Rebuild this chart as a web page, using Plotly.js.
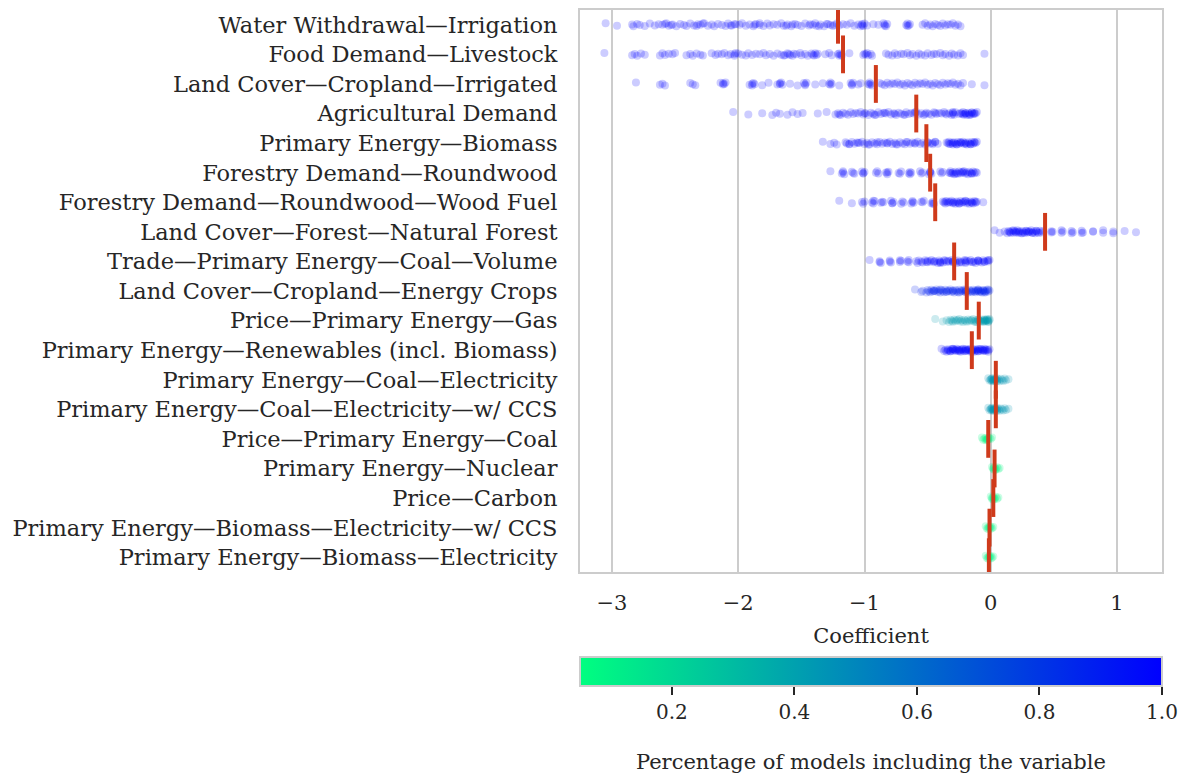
<!DOCTYPE html>
<html><head><meta charset="utf-8">
<script src="https://cdn.plot.ly/plotly-3.0.1.min.js"></script>
<style>html,body{margin:0;padding:0;background:#fff}</style>
</head><body>
<div id="chart" style="width:1178px;height:775px"></div>
<script>
const categories = [
  "Water Withdrawal—Irrigation",
  "Food Demand—Livestock",
  "Land Cover—Cropland—Irrigated",
  "Agricultural Demand",
  "Primary Energy—Biomass",
  "Forestry Demand—Roundwood",
  "Forestry Demand—Roundwood—Wood Fuel",
  "Land Cover—Forest—Natural Forest",
  "Trade—Primary Energy—Coal—Volume",
  "Land Cover—Cropland—Energy Crops",
  "Price—Primary Energy—Gas",
  "Primary Energy—Renewables (incl. Biomass)",
  "Primary Energy—Coal—Electricity",
  "Primary Energy—Coal—Electricity—w/ CCS",
  "Price—Primary Energy—Coal",
  "Primary Energy—Nuclear",
  "Price—Carbon",
  "Primary Energy—Biomass—Electricity—w/ CCS",
  "Primary Energy—Biomass—Electricity"
];

// share of models including each variable (colour)
const share = [1.0,1.0,1.0,1.0,1.0,1.0,1.0,1.0,1.0,0.88,0.42,1.0,0.45,0.45,0.08,0.08,0.08,0.08,0.08];

// mean coefficient per variable (red bars)
const means = [-1.21,-1.17,-0.91,-0.59,-0.51,-0.48,-0.44,0.43,-0.29,-0.19,-0.095,-0.15,0.04,0.04,-0.02,0.03,0.02,-0.01,-0.015];

// coefficient samples per variable
const waterIrrigation = [-3.05,-2.96,-2.84,-2.83,-2.8,-2.78,-2.74,-2.7,-2.66,-2.63,-2.6,-2.57,-2.55,-2.52,-2.49,-2.46,-2.43,-2.41,-2.38,-2.35,-2.32,-2.3,-2.27,-2.24,-2.21,-2.19,-2.16,-2.13,-2.1,-2.08,-2.05,-2.02,-1.99,-1.97,-1.94,-1.91,-1.88,-1.86,-1.83,-1.8,-1.77,-1.75,-1.72,-1.69,-1.66,-1.64,-1.61,-1.58,-1.55,-1.53,-1.5,-1.47,-1.44,-1.43,-1.41,-1.39,-1.38,-1.35,-1.32,-1.29,-1.27,-1.25,-1.22,-1.2,-1.17,-1.14,-1.11,-1.08,-1.05,-1.03,-1.02,-1.02,-1.01,-1.0,-0.98,-0.93,-0.89,-0.85,-0.84,-0.84,-0.83,-0.82,-0.67,-0.66,-0.66,-0.65,-0.64,-0.54,-0.52,-0.5,-0.48,-0.46,-0.44,-0.42,-0.4,-0.38,-0.36,-0.34,-0.32,-0.3,-0.28,-0.26,-0.24,-2.58,-2.53,-2.33,-2.28,-2.06,-2.03,-1.87,-1.83,-1.62,-1.57,-1.36,-1.3,-1.24];
const foodLivestock = [-3.06,-2.84,-2.82,-2.8,-2.77,-2.74,-2.62,-2.6,-2.58,-2.55,-2.52,-2.5,-2.41,-2.38,-2.36,-2.33,-2.3,-2.28,-2.21,-2.18,-2.16,-2.13,-2.11,-2.08,-2.06,-2.03,-2.0,-1.97,-1.94,-1.92,-1.89,-1.86,-1.83,-1.8,-1.78,-1.75,-1.72,-1.69,-1.66,-1.64,-1.61,-1.59,-1.56,-1.54,-1.51,-1.5,-1.47,-1.45,-1.42,-1.41,-1.4,-1.39,-1.38,-1.37,-1.31,-1.28,-1.26,-1.21,-1.2,-1.2,-1.19,-1.18,-1.12,-1.01,-1.0,-0.99,-0.98,-0.97,-0.95,-0.94,-0.83,-0.81,-0.78,-0.76,-0.74,-0.71,-0.69,-0.66,-0.64,-0.62,-0.59,-0.57,-0.55,-0.52,-0.5,-0.47,-0.45,-0.43,-0.4,-0.38,-0.36,-0.33,-0.31,-0.29,-0.26,-0.24,-0.22,-0.05,-2.03,-2.02,-1.63,-1.6,-1.57];
const croplandIrrigated = [-2.81,-2.62,-2.6,-2.58,-2.38,-2.36,-2.34,-2.14,-2.12,-2.12,-2.11,-2.1,-1.91,-1.89,-1.89,-1.88,-1.87,-1.81,-1.76,-1.69,-1.67,-1.67,-1.66,-1.65,-1.59,-1.53,-1.48,-1.47,-1.47,-1.46,-1.39,-1.33,-1.28,-1.27,-1.27,-1.26,-1.2,-1.11,-1.1,-1.1,-1.09,-1.05,-1.03,-0.97,-0.96,-0.96,-0.95,-0.94,-0.88,-0.86,-0.84,-0.82,-0.8,-0.78,-0.76,-0.74,-0.72,-0.7,-0.68,-0.66,-0.64,-0.62,-0.6,-0.58,-0.56,-0.54,-0.52,-0.5,-0.48,-0.46,-0.44,-0.42,-0.4,-0.38,-0.36,-0.34,-0.32,-0.3,-0.28,-0.26,-0.24,-0.22,-0.15,-0.05];
const agriculturalDemand = [-2.04,-1.92,-1.81,-1.73,-1.7,-1.67,-1.61,-1.57,-1.53,-1.49,-1.37,-1.3,-1.23,-1.21,-1.19,-1.17,-1.15,-1.13,-1.11,-1.09,-1.07,-1.05,-1.03,-1.01,-0.99,-0.97,-0.95,-0.93,-0.91,-0.89,-0.87,-0.85,-0.83,-0.81,-0.79,-0.77,-0.75,-0.73,-0.71,-0.69,-0.67,-0.65,-0.63,-0.61,-0.59,-0.57,-0.55,-0.53,-0.51,-0.49,-0.47,-0.45,-0.43,-0.41,-0.39,-0.37,-0.35,-0.33,-0.31,-0.3,-0.3,-0.29,-0.28,-0.25,-0.24,-0.23,-0.22,-0.21,-0.2,-0.19,-0.18,-0.17,-0.16,-0.15,-0.14,-0.13,-0.12,-0.11,-1.2,-1.0,-0.92,-0.84,-0.76,-0.68,-0.6,-0.52,-0.44,-0.36,-0.3,-0.22,-0.2,-0.17,-0.15,-0.13];
const primaryBiomass = [-1.33,-1.27,-1.24,-1.22,-1.15,-1.14,-1.12,-1.1,-1.08,-1.06,-1.04,-1.02,-1.0,-0.98,-0.96,-0.94,-0.92,-0.9,-0.88,-0.86,-0.84,-0.82,-0.8,-0.78,-0.76,-0.74,-0.72,-0.7,-0.68,-0.66,-0.64,-0.62,-0.6,-0.58,-0.56,-0.54,-0.52,-0.5,-0.48,-0.46,-0.44,-0.42,-0.35,-0.34,-0.33,-0.32,-0.31,-0.3,-0.29,-0.28,-0.27,-0.26,-0.25,-0.24,-0.23,-0.22,-0.21,-0.2,-0.19,-0.18,-0.17,-0.16,-0.15,-0.14,-0.13,-0.12,-0.11,-1.12,-1.05,-0.97,-0.9,-0.82,-0.75,-0.67,-0.6,-0.5,-0.46,-0.44,-0.33,-0.3,-0.27,-0.24,-0.2,-0.16,-0.13];
const roundwood = [-1.27,-1.18,-1.17,-1.16,-1.1,-1.09,-1.08,-1.02,-1.01,-1.0,-0.91,-0.9,-0.89,-0.83,-0.82,-0.81,-0.73,-0.72,-0.71,-0.65,-0.64,-0.63,-0.56,-0.55,-0.54,-0.49,-0.48,-0.48,-0.47,-0.4,-0.39,-0.38,-0.33,-0.32,-0.31,-0.3,-0.29,-0.28,-0.27,-0.26,-0.25,-0.24,-0.23,-0.22,-0.21,-0.2,-0.19,-0.18,-0.17,-0.16,-0.15,-0.14,-0.13,-0.12,-0.11,-1.17,-1.01,-0.82,-0.64,-0.48,-0.32,-0.28,-0.22,-0.15];
const woodFuel = [-1.2,-1.1,-1.02,-1.01,-1.0,-0.94,-0.93,-0.92,-0.87,-0.86,-0.85,-0.79,-0.78,-0.77,-0.71,-0.7,-0.69,-0.63,-0.62,-0.61,-0.55,-0.54,-0.53,-0.47,-0.46,-0.45,-0.38,-0.37,-0.36,-0.35,-0.34,-0.33,-0.32,-0.31,-0.3,-0.29,-0.28,-0.27,-0.26,-0.25,-0.24,-0.23,-0.22,-0.21,-0.2,-0.19,-0.18,-0.17,-0.16,-0.15,-0.14,-0.13,-0.12,-0.11,-0.06,-0.93,-0.78,-0.62,-0.46,-0.36,-0.3,-0.25,-0.2,-0.15,-0.12];
const naturalForest = [0.03,0.07,0.11,0.13,0.14,0.15,0.16,0.17,0.18,0.19,0.2,0.21,0.22,0.23,0.24,0.25,0.26,0.27,0.28,0.29,0.3,0.31,0.32,0.33,0.34,0.35,0.36,0.37,0.38,0.39,0.4,0.41,0.15,0.18,0.2,0.22,0.25,0.28,0.3,0.33,0.36,0.48,0.48,0.49,0.56,0.56,0.57,0.64,0.64,0.65,0.72,0.72,0.73,0.81,0.81,0.89,0.89,0.97,0.97,1.06,1.15];
const coalTrade = [-0.96,-0.88,-0.88,-0.87,-0.8,-0.8,-0.79,-0.72,-0.72,-0.71,-0.66,-0.65,-0.65,-0.59,-0.58,-0.57,-0.55,-0.54,-0.52,-0.51,-0.5,-0.48,-0.47,-0.45,-0.44,-0.42,-0.41,-0.4,-0.38,-0.37,-0.35,-0.34,-0.33,-0.31,-0.3,-0.28,-0.27,-0.26,-0.24,-0.23,-0.21,-0.2,-0.19,-0.17,-0.16,-0.14,-0.13,-0.12,-0.1,-0.09,-0.07,-0.06,-0.05,-0.03,-0.02,-0.01,-0.5,-0.45,-0.4,-0.36,-0.3,-0.25,-0.2,-0.15,-0.1,-0.05,-0.02,-0.4,-0.3,-0.2,-0.1];
const energyCrops = [-0.6,-0.55,-0.54,-0.51,-0.5,-0.49,-0.48,-0.47,-0.46,-0.45,-0.44,-0.43,-0.42,-0.41,-0.4,-0.39,-0.38,-0.37,-0.36,-0.35,-0.34,-0.33,-0.32,-0.31,-0.3,-0.29,-0.28,-0.27,-0.26,-0.25,-0.24,-0.23,-0.22,-0.21,-0.2,-0.19,-0.18,-0.17,-0.16,-0.15,-0.14,-0.13,-0.12,-0.11,-0.1,-0.09,-0.08,-0.07,-0.06,-0.05,-0.04,-0.03,-0.02,-0.01,-0.45,-0.4,-0.35,-0.3,-0.25,-0.2,-0.15,-0.12,-0.1,-0.08,-0.06,-0.04,-0.02,-0.2,-0.1,-0.05];
const gasPrice = [-0.44,-0.38,-0.35,-0.33,-0.32,-0.31,-0.3,-0.29,-0.28,-0.27,-0.26,-0.25,-0.24,-0.23,-0.22,-0.21,-0.2,-0.19,-0.18,-0.17,-0.16,-0.15,-0.14,-0.13,-0.12,-0.11,-0.1,-0.09,-0.08,-0.07,-0.06,-0.05,-0.04,-0.03,-0.02,-0.01,-0.12,-0.1,-0.08,-0.06,-0.05,-0.04,-0.03,-0.02,-0.01,-0.05,-0.03,-0.02];
const renewables = [-0.39,-0.37,-0.36,-0.35,-0.34,-0.33,-0.32,-0.31,-0.3,-0.29,-0.28,-0.27,-0.26,-0.25,-0.24,-0.23,-0.22,-0.21,-0.2,-0.19,-0.18,-0.17,-0.16,-0.15,-0.14,-0.13,-0.12,-0.11,-0.1,-0.09,-0.08,-0.07,-0.06,-0.05,-0.04,-0.03,-0.02,-0.01,-0.34,-0.32,-0.3,-0.28,-0.26,-0.24,-0.22,-0.2,-0.18,-0.16,-0.14,-0.12,-0.1,-0.08,-0.06,-0.04,-0.02,-0.3,-0.25,-0.2,-0.15,-0.1,-0.05];
const coalElectricity = [-0.02,-0.01,0,0.01,0.01,0.02,0.02,0.03,0.03,0.04,0.04,0.05,0.05,0.06,0.07,0.08,0.09,0.1,0.11,0.12,0.14,0,0.01,0.02,0.03,0.05];
const coalElectricityCCS = [-0.02,-0.01,0,0.01,0.01,0.02,0.02,0.03,0.03,0.04,0.04,0.05,0.05,0.06,0.07,0.08,0.09,0.1,0.11,0.12,0.14,0,0.01,0.02,0.03,0.05];
const coalPrice = [-0.07,-0.06,-0.05,-0.04,-0.04,-0.03,-0.03,-0.02,-0.02,-0.01,0,0.01];
const nuclear = [0.01,0.02,0.02,0.03,0.03,0.04,0.04,0.05,0.06,0.07];
const carbonPrice = [0.0,0.01,0.01,0.02,0.02,0.03,0.03,0.04,0.05,0.06];
const biomassElectricityCCS = [-0.04,-0.03,-0.02,-0.02,-0.01,-0.01,0,0,0.01,0.02];
const biomassElectricity = [-0.04,-0.03,-0.02,-0.02,-0.01,-0.01,0,0,0.01,0.02];

const samples = [waterIrrigation, foodLivestock, croplandIrrigated, agriculturalDemand, primaryBiomass, roundwood, woodFuel, naturalForest, coalTrade, energyCrops, gasPrice, renewables, coalElectricity, coalElectricityCCS, coalPrice, nuclear, carbonPrice, biomassElectricityCCS, biomassElectricity];

// small vertical strip jitter (style)
const jitterPattern = [-0.05,0.03,-0.01,0.05,-0.03,0.01,0.04,-0.04,0.02,-0.02,0.0];

const xs = [], ys = [], cs = [];
samples.forEach((arr, i) => arr.forEach((v, k) => {
  xs.push(v); ys.push(i + jitterPattern[k % jitterPattern.length]); cs.push(share[i]);
}));
const idx = categories.map((_, i) => i);

const txt = '#262626';
const fontFam = 'DejaVu Serif, serif';
const fs = 22.5;

const points = {
  type: 'scatter', mode: 'markers', x: xs, y: ys, hoverinfo: 'skip',
  marker: {
    size: 8, color: cs, opacity: 0.2, cmin: 0.05, cmax: 1.0,
    colorscale: [[0, 'rgb(0,255,128)'], [1, 'rgb(0,0,255)']],
    line: {width: 0},
    colorbar: {
      orientation: 'h', x: 0.5, xanchor: 'center', xref: 'paper',
      y: -0.151, yanchor: 'top', yref: 'paper',
      len: 1, lenmode: 'fraction', thickness: 29, xpad: 0, ypad: 0,
      outlinewidth: 2, outlinecolor: '#cccccc',
      tickvals: [0.2, 0.4, 0.6, 0.8, 1.0], ticktext: ['0.2', '0.4', '0.6', '0.8', '1.0'],
      ticks: 'outside', ticklen: 8, tickwidth: 2, tickcolor: txt,
      tickfont: {family: fontFam, size: 20, color: txt}
    }
  }
};

const meanBars = {
  type: 'scatter', mode: 'markers', x: means, y: idx, hoverinfo: 'skip',
  marker: {symbol: 'line-ns', size: 27, color: '#cf3a1b', line: {width: 4, color: '#cf3a1b'}}
};

const layout = {
  width: 1178, height: 775,
  margin: {l: 580, r: 16, t: 10, b: 203},
  paper_bgcolor: 'white', plot_bgcolor: 'white',
  font: {family: fontFam, size: fs, color: txt},
  showlegend: false,
  xaxis: {
    range: [-3.253, 1.356], tickvals: [-3, -2, -1, 0, 1],
    showgrid: true, gridcolor: '#cccccc', gridwidth: 2, zeroline: false,
    showline: true, mirror: true, linecolor: '#cccccc', linewidth: 2,
    ticks: '', ticklabelstandoff: 11,
    tickfont: {family: fontFam, size: 21, color: txt},
    title: {text: 'Coefficient', standoff: 14, font: {family: fontFam, size: 21, color: txt}}
  },
  yaxis: {
    range: [18.5, -0.5], tickvals: idx, ticktext: categories,
    showgrid: false, zeroline: false,
    showline: true, mirror: true, linecolor: '#cccccc', linewidth: 2,
    ticks: '', ticklabelstandoff: 16,
    tickfont: {family: fontFam, size: fs, color: txt}
  },
  annotations: [{
    text: 'Percentage of models including the variable',
    xref: 'paper', yref: 'paper', x: 0.5, y: -0.338, xanchor: 'center', yanchor: 'middle',
    showarrow: false, font: {family: fontFam, size: 21, color: txt}
  }]
};

Plotly.newPlot('chart', [points, meanBars], layout, {displayModeBar: false, staticPlot: true});
</script>
</body></html>
